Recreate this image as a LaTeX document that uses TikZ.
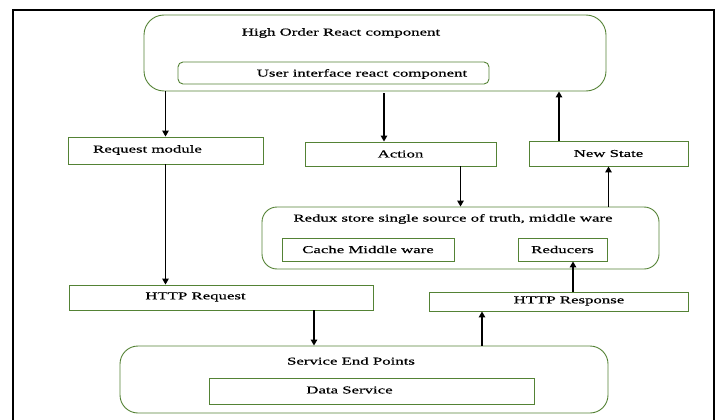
\documentclass[tikz,border=0pt]{standalone}
\usepackage{fontspec}
\setmainfont{Liberation Serif}[FakeStretch=1.6,FakeBold=0.6]
\usetikzlibrary{arrows.meta}
\definecolor{vert}{RGB}{84,130,53}
\begin{document}
\begin{tikzpicture}[x=1pt,y=-1pt,font=\fontsize{10.5}{12}\selectfont,
    boite/.style={draw=vert,line width=0.9pt,inner sep=0pt},
    fleche/.style={-{Triangle[length=6pt,width=6.5pt]},line width=1.3pt}]
    \useasboundingbox (0,0) rectangle (723,420);
    % cadre
    \draw[line width=2.6pt] (13,420) -- (13,10) -- (714,10) -- (714,420);
    % composant haut niveau
    \node[boite,rounded corners=20pt,minimum width=462pt,minimum height=76pt] (hoc) at (375,53) {};
    \node (hocT) at (341,33) {High Order React component};
    \node[boite,rounded corners=5pt,minimum width=311pt,minimum height=22pt] (ui) at (333.5,73) {};
    \node (uiT) at (362,74) {User interface react component};
    % ligne du milieu
    \node[boite,minimum width=195pt,minimum height=27pt] (req) at (165.5,150.5) {};
    \node (reqT) at (147.5,150) {Request module};
    \node[boite,minimum width=191pt,minimum height=24pt] (action) at (400.5,154) {Action};
    \node[boite,minimum width=159pt,minimum height=25pt] (newst) at (608.5,153.5) {New State};
    % store redux
    \node[boite,rounded corners=15pt,minimum width=397pt,minimum height=62pt] (redux) at (460.5,238) {};
    \node (reduxT) at (453,219) {Redux store single source of truth, middle ware};
    \node[boite,minimum width=172pt,minimum height=23pt] (cache) at (368,249.5) {Cache Middle ware};
    \node[boite,minimum width=89pt,minimum height=23pt] (reducers) at (562.5,249.5) {Reducers};
    % http
    \node[boite,minimum width=304pt,minimum height=25pt] (httpreq) at (221,297.5) {};
    \node (httpreqT) at (195.5,297) {HTTP Request};
    \node[boite,minimum width=259pt,minimum height=19pt] (httpresp) at (558.5,301.5) {};
    \node (httprespT) at (569,301) {HTTP Response};
    % services
    \node[boite,rounded corners=18pt,minimum width=488pt,minimum height=67pt] (serv) at (364,379.5) {};
    \node (servT) at (351,361) {Service End Points};
    \node[boite,minimum width=325pt,minimum height=26pt] (data) at (371.5,391) {};
    \node (dataT) at (349.5,390) {Data Service};
    % points de depart des fleches
    \coordinate (c1) at (384,0);
    \coordinate (c2) at (559,0);
    \coordinate (c3) at (314,0);
    \coordinate (c4) at (482,0);
    \coordinate (c5) at (573,0);
    % fleches
    \draw[fleche] (hoc.south -| req.north) -- (req.north);
    \draw[fleche] ([yshift=-2pt]hoc.south -| c1) -- (action.north -| c1);
    \draw[fleche] (newst.north -| c2) -- (hoc.south -| c2);
    \draw[fleche] (action.south -| redux.north) -- (redux.north);
    \draw[fleche] (redux.north -| newst.south) -- (newst.south);
    \draw[fleche] (req.south) -- (req.south |- httpreq.north);
    \draw[fleche] (httpreq.south -| c3) -- (serv.north -| c3);
    \draw[fleche] (serv.north -| c4) -- (httpresp.south -| c4);
    \draw[fleche] (httpresp.north -| c5) -- (reducers.south -| c5);
\end{tikzpicture}
\end{document}
